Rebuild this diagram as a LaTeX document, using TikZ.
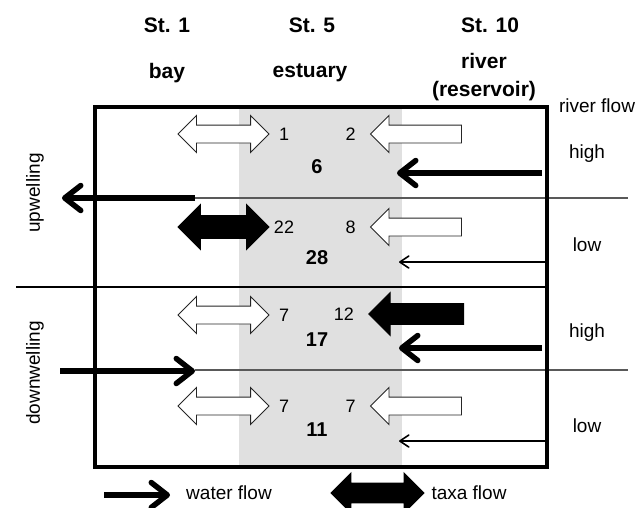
\documentclass[tikz,border=0pt]{standalone}
\usepackage{fontspec}
\setmainfont{Liberation Sans}
\usetikzlibrary{shapes.arrows,arrows.meta,positioning}

\tikzset{
  lbl/.style={font=\fontsize{19}{22}\selectfont, inner sep=0pt},
  hdr/.style={font=\fontsize{21}{28}\selectfont\bfseries, inner sep=0pt, align=center},
  num/.style={font=\fontsize{18}{20}\selectfont, inner sep=0pt},
  tot/.style={font=\fontsize{20}{22}\selectfont\bfseries, inner sep=0pt},
  dbl/.style={double arrow, draw=black!85, line width=0.9pt, fill=white, inner sep=0pt,
    minimum height=91pt, text height=8.5pt, text depth=8.5pt, double arrow head extend=9.5pt},
  sgl/.style={single arrow, shape border rotate=180, draw=black!85, line width=0.9pt, fill=white,
    inner sep=0pt, minimum height=91pt, text height=8.5pt, text depth=8.5pt, single arrow head extend=9.5pt},
  full/.style={fill=black, draw=black},
  wthick/.style={line width=5.5pt, -{Straight Barb[round,length=16pt,width=25pt]}},
  wthin/.style={line width=1.6pt, -{Straight Barb[round,length=9pt,width=12pt]}},
  sep/.style={black!65, line width=1.2pt}
}

\begin{document}
\begin{tikzpicture}[x=1pt, y=-1pt]
  \useasboundingbox (0,0) rectangle (636,507);

  % estuary band
  \fill[black!12] (239,107) rectangle (402,467);

  % headers
  \node[hdr] (st1)  at (167,25) {St. 1};
  \node[hdr] (st5)  at (312,25) {St. 5};
  \node[hdr] (st10) at (490,25) {St. 10};
  \node[hdr] (bay)  at (167,73) {bay};
  \node[hdr] (est)  at (310,73) {estuary};
  \node[hdr] (riv)  at (484,77) {river\\(reservoir)};
  \node[lbl] (rflow) at (597,106) {river flow};

  % separators
  \coordinate (upA) at (195,198);
  \coordinate (upB) at (62,198);
  \coordinate (upE) at (628,198);
  \coordinate (dnA) at (60,371);
  \coordinate (dnB) at (195,371);
  \coordinate (dnE) at (628,370);
  \coordinate (midA) at (16,287);
  \coordinate (midB) at (549,287);
  \draw[sep] (upA) -- (upE);
  \draw[sep] (dnB |- dnE) -- (dnE);
  \draw[line width=1.2pt] (midA) -- (midB);

  % frame
  \node[draw, line width=3.3pt, minimum width=452pt, minimum height=360pt, inner sep=0pt] (box) at (321,287) {};

  % upwelling / downwelling
  \node[lbl, rotate=90] (up) at (35,193) {upwelling};
  \node[lbl, rotate=90] (dn) at (35,373) {downwelling};
  \draw[wthick] (upA) -- (upB);
  \draw[wthick] (dnA) -- (dnB);

  % river flow
  \node[lbl] (hi1) at (587,154) {high};
  \node[lbl] (lo1) at (587,245) {low};
  \node[lbl] (hi2) at (587,333) {high};
  \node[lbl] (lo2) at (587,426) {low};
  \coordinate (r1a) at (542,173); \coordinate (r1b) at (397,173);
  \coordinate (r2a) at (547,262); \coordinate (r2b) at (399,262);
  \coordinate (r3a) at (542,348); \coordinate (r3b) at (399,348);
  \coordinate (r4a) at (547,441); \coordinate (r4b) at (399,441);
  \draw[wthick] (r1a) -- (r1b);
  \draw[wthin]  (r2a) -- (r2b);
  \draw[wthick] (r3a) -- (r3b);
  \draw[wthin]  (r4a) -- (r4b);

  % taxa flow, bay side
  \node[dbl] (b1) at (223.5,134) {};
  \node[dbl, full, text height=11pt, text depth=11pt, double arrow head extend=11pt] (b2) at (223.5,227) {};
  \node[dbl] (b3) at (223.5,315) {};
  \node[dbl] (b4) at (223.5,406) {};
  \node[num] (nb1) at (284,134) {1};
  \node[num] (nb2) at (284,227) {22};
  \node[num] (nb3) at (284,315) {7};
  \node[num] (nb4) at (284,406) {7};

  % taxa flow, river side
  \node[sgl] (s1) at (420.5,134) {};
  \node[sgl] (s2) at (420.5,227) {};
  \node[sgl, full, minimum height=95pt, text height=10pt, text depth=10pt, single arrow head extend=11pt] (s3) at (421.5,314) {};
  \node[sgl] (s4) at (420.5,406) {};
  \node[num, left=14pt of s1.west] (ns1) {2};
  \node[num, left=14pt of s2.west] (ns2) {8};
  \node[num, left=14pt of s3.west] (ns3) {12};
  \node[num, left=14pt of s4.west] (ns4) {7};

  % totals
  \node[tot] (t1) at (317,167) {6};
  \node[tot] (t2) at (317,258) {28};
  \node[tot] (t3) at (317,340) {17};
  \node[tot] (t4) at (317,430) {11};

  % legend
  \coordinate (lgA) at (104,495);
  \coordinate (lgB) at (170,495);
  \draw[wthick] (lgA) -- (lgB);
  \node[lbl] (lgw) at (229,493) {water flow};
  \node[dbl, full, minimum height=93pt, text height=9.5pt, text depth=9.5pt, double arrow head extend=10pt] (lgt) at (377.5,493) {};
  \node[lbl] (lgx) at (469,493) {taxa flow};
\end{tikzpicture}
\end{document}
